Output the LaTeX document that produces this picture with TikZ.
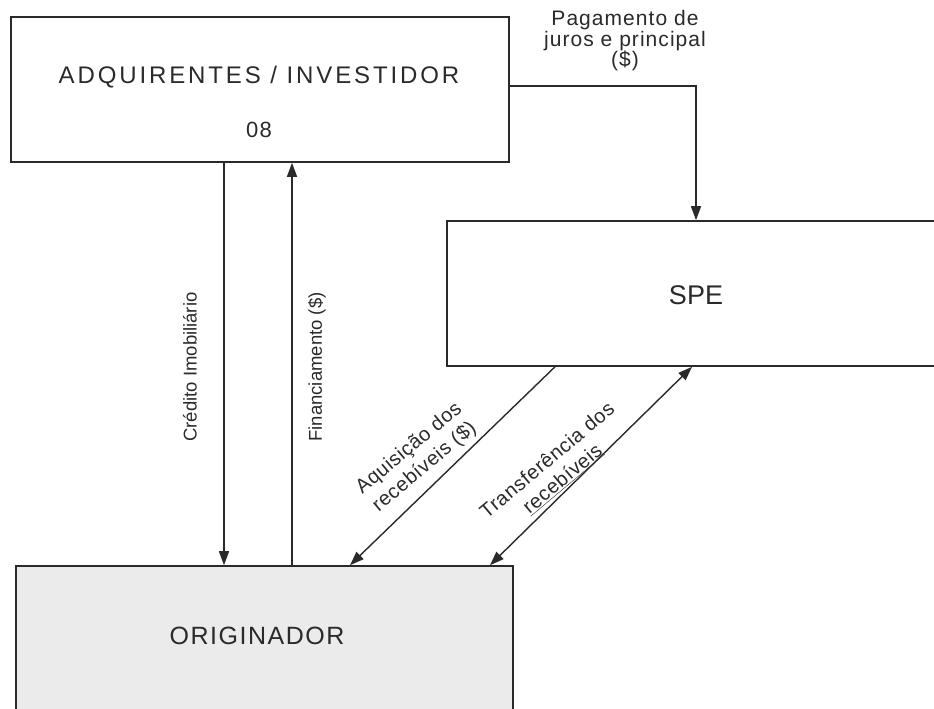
\documentclass[tikz,border=0pt]{standalone}
\usepackage{fontspec}
\setmainfont{Liberation Sans}
\usetikzlibrary{arrows.meta}
\definecolor{oribg}{HTML}{EBEBEB}
\definecolor{ink}{HTML}{2A2A2A}
\begin{document}
\begin{tikzpicture}[x=1pt,y=-1pt,
  box/.style={draw=ink,line width=1.6pt,inner sep=0pt},
  conn/.style={draw=ink,line width=1.4pt},
  arr/.style={conn,-{Triangle[length=14pt,width=10pt]}},
  dbl/.style={conn,{Triangle[length=14pt,width=10pt]}-{Triangle[length=14pt,width=10pt]}},
  lbl/.style={text=ink,inner sep=0pt,align=center},
]
\useasboundingbox[fill=white] (0,0) rectangle (934,709);
% boxes
\node[box,minimum width=498pt,minimum height=145pt] (inv) at (260,89.5) {};
\node[box,minimum width=493pt,minimum height=145pt] (spe) at (693.5,293.5) {};
\node[box,fill=oribg,minimum width=497pt,minimum height=149pt] (ori) at (264.5,640.5) {};
% box texts
\node[lbl,font={\fontsize{24}{27}\selectfont\addfontfeature{LetterSpace=12}}] (invt) at (259,77) {ADQUIRENTES / INVESTIDOR};
\node[lbl,font={\fontsize{22}{24}\selectfont\addfontfeature{LetterSpace=5}}] (inv08) at (259,130) {08};
\node[lbl,font={\fontsize{27}{30}\selectfont}] (spet) at (696,295) {SPE};
\node[lbl,font={\fontsize{25}{28}\selectfont\addfontfeature{LetterSpace=6}}] (orit) at (257,636) {ORIGINADOR};
% helper x-positions
\coordinate (xc) at (224,0);
\coordinate (xf) at (292,0);
\coordinate (xa1) at (555,0);
\coordinate (xa2) at (350,0);
\coordinate (xt1) at (490,0);
\coordinate (xt2) at (692,0);
\coordinate (xp) at (696,0);
% connectors
\draw[arr] ([yshift=3.5pt]inv.east) -| (spe.north -| xp);
\draw[arr] (inv.south -| xc) -- (ori.north -| xc);
\draw[arr] (ori.north -| xf) -- (inv.south -| xf);
\draw[arr] (spe.south -| xa1) -- (ori.north -| xa2);
\draw[dbl] (ori.north -| xt1) -- (spe.south -| xt2);
% labels
\node[lbl,font={\fontsize{21}{20.5}\selectfont\addfontfeature{LetterSpace=5}}] (pag) at (625,41) {Pagamento de\\juros e principal\\(\$)};
\node[lbl,rotate=90,font={\fontsize{18.5}{21}\selectfont}] (cred) at (190,367) {Crédito Imobiliário};
\node[lbl,rotate=90,font={\fontsize{18.5}{21}\selectfont}] (fin) at (317,367) {Financiamento (\$)};
\node[lbl,rotate=40,font={\fontsize{20}{24}\selectfont\addfontfeature{LetterSpace=3}}] (aq) at (417,458) {Aquisição dos\\recebíveis (\$)};
\node[lbl,rotate=40,font={\fontsize{20}{24}\selectfont\addfontfeature{LetterSpace=3}}] (tr) at (555,470) {Transferência dos\\\underline{recebíveis}};
\end{tikzpicture}
\end{document}
